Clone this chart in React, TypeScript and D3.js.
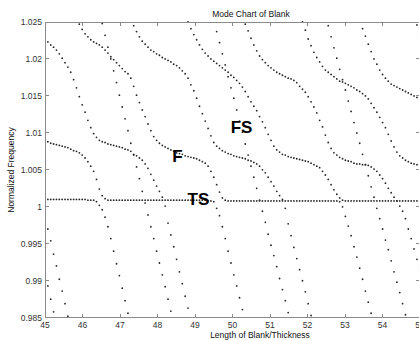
import React from 'react';
import * as d3 from 'd3';

// sampling grid of the computed mode chart (length/thickness)
const X_START = 45;
const X_STEP = 0.07629;

const xTickValues = [45, 46, 47, 48, 49, 50, 51, 52, 53, 54, 55];
const xTickLabels = ['45', '46', '47', '48', '49', '50', '51', '52', '53', '54', '55'];
const yTickValues = [0.985, 0.99, 0.995, 1, 1.005, 1.01, 1.015, 1.02, 1.025];
const yTickLabels = ['0.985', '0.99', '0.995', '1', '1.005', '1.01', '1.015', '1.02', '1.025'];

const modeLabels = [
  { text: 'F', x: 48.39, y: 1.006 },
  { text: 'FS', x: 49.95, y: 1.01 },
  { text: 'TS', x: 48.8, y: 1.0002 },
];

// each branch: index of first sample on the grid + normalized frequencies
const branchTS1 = { start: 0, y: [1.0010, 1.0010, 1.0010, 1.0010, 1.0010, 1.0010, 1.0010, 1.0010, 1.0010, 1.0010, 1.0010, 1.0010, 1.0010, 1.0010, 1.0010, 1.0009, 1.0009, 1.0009, 1.0007, 1.0002, 0.9996, 0.9986, 0.9973, 0.9957, 0.9940, 0.9923, 0.9907, 0.9890, 0.9873, 0.9856] };
const branchLa = { start: 0, y: [0.9988, 0.9970, 0.9954, 0.9936, 0.9920, 0.9902, 0.9886, 0.9869, 0.9852] };
const branchLb = { start: 0, y: [0.9911, 0.9893, 0.9875, 0.9858] };
const branchFL = { start: 0, y: [
  1.0089, 1.0088, 1.0086, 1.0085, 1.0084, 1.0083, 1.0082, 1.0081, 1.0080, 1.0078, 1.0076, 1.0075, 1.0073, 1.0070, 1.0066, 1.0061, 1.0055, 1.0048, 1.0037, 1.0024, 1.0015, 1.0011, 1.0009,
  1.0009, 1.0009, 1.0009, 1.0009, 1.0009, 1.0009, 1.0009, 1.0009, 1.0009, 1.0009, 1.0009, 1.0009, 1.0009, 1.0009, 1.0009, 1.0009, 1.0009, 1.0009,
  1.0009, 1.0009, 1.0009, 1.0009, 1.0009, 1.0009, 1.0009, 1.0009, 1.0009, 1.0009, 1.0009, 1.0009, 1.0009, 1.0009, 1.0009, 1.0009,
  1.0008, 1.0008, 1.0007, 0.9998, 0.9988, 0.9973, 0.9957, 0.9940, 0.9924, 0.9908, 0.9893, 0.9877, 0.9861, 0.9844] };
const branchAlpha = { start: 0, y: [
  1.0227, 1.0223, 1.0219, 1.0216, 1.0212, 1.0207, 1.0201, 1.0195, 1.0189, 1.0182, 1.0172, 1.0161, 1.0149, 1.0138, 1.0128, 1.0117, 1.0107, 1.0099, 1.0094, 1.0090,
  1.0088, 1.0087, 1.0085, 1.0084, 1.0083, 1.0082, 1.0081, 1.0080, 1.0078, 1.0077, 1.0075, 1.0071, 1.0069, 1.0066, 1.0063, 1.0058, 1.0052, 1.0044, 1.0036, 1.0028,
  1.0021, 1.0013, 1.0001, 0.9978, 0.9962, 0.9946, 0.9929, 0.9912, 0.9896, 0.9879, 0.9863, 0.9846] };
const branchU2a = { start: 20, y: [1.0248, 1.0232, 1.0216, 1.0200, 1.0184, 1.0168, 1.0151, 1.0135, 1.0119, 1.0103, 1.0086, 1.0070, 1.0054, 1.0038, 1.0021, 1.0005, 0.9989, 0.9973, 0.9957, 0.9940, 0.9924, 0.9908, 0.9892, 0.9875, 0.9859, 0.9843] };
const branchT2 = { start: 12, y: [
  1.0247, 1.0240, 1.0234, 1.0230, 1.0226, 1.0223, 1.0221, 1.0219, 1.0216, 1.0212, 1.0208, 1.0203, 1.0199, 1.0195, 1.0191, 1.0187, 1.0183, 1.0180, 1.0174, 1.0163,
  1.0151, 1.0141, 1.0131, 1.0122, 1.0112, 1.0103, 1.0095, 1.0090, 1.0086, 1.0083, 1.0081, 1.0079, 1.0077, 1.0075, 1.0073, 1.0072, 1.0071, 1.0069, 1.0068, 1.0067,
  1.0066, 1.0065, 1.0063, 1.0061, 1.0059, 1.0055, 1.0048, 1.0040, 1.0030, 1.0020, 1.0012, 1.0009,
  1.0008, 1.0008, 1.0008, 1.0008, 1.0008, 1.0008, 1.0008, 1.0008, 1.0008, 1.0008, 1.0008, 1.0008, 1.0008, 1.0008, 1.0008, 1.0008, 1.0008, 1.0008, 1.0008, 1.0008,
  1.0008, 1.0008, 1.0008, 1.0008, 1.0008, 1.0008, 1.0008, 1.0008, 1.0008, 1.0008, 1.0008, 1.0008, 1.0008, 1.0008, 1.0008, 1.0008, 1.0008, 1.0008, 1.0008,
  1.0007, 1.0000, 0.9987, 0.9974, 0.9961, 0.9946, 0.9932, 0.9917, 0.9902, 0.9886, 0.9871, 0.9856, 0.9840] };
const branchD = { start: 31, y: [
  1.0245, 1.0237, 1.0230, 1.0224, 1.0220, 1.0216, 1.0212, 1.0210, 1.0207, 1.0205, 1.0202, 1.0200, 1.0198, 1.0196, 1.0193, 1.0191, 1.0188, 1.0184, 1.0180, 1.0174,
  1.0165, 1.0157, 1.0147, 1.0136, 1.0126, 1.0116, 1.0106, 1.0096, 1.0087, 1.0082, 1.0079, 1.0076, 1.0074, 1.0072, 1.0071, 1.0069, 1.0068, 1.0067, 1.0066, 1.0065,
  1.0063, 1.0062, 1.0060, 1.0058, 1.0055, 1.0050, 1.0046, 1.0040, 1.0034, 1.0028, 1.0021, 1.0015, 1.0010, 0.9998, 0.9977, 0.9961, 0.9945, 0.9930, 0.9915, 0.9900,
  0.9885, 0.9869, 0.9853, 0.9837] };
const branchU2b = { start: 60, y: [1.0237, 1.0222, 1.0207, 1.0192, 1.0176, 1.0161, 1.0147, 1.0131, 1.0116, 1.0101, 1.0085, 1.0070, 1.0055, 1.0040, 1.0025, 1.0009, 0.9994, 0.9979, 0.9963, 0.9948, 0.9934, 0.9919, 0.9903, 0.9888, 0.9873, 0.9857, 0.9841] };
const branchE = { start: 50, y: [
  1.0250, 1.0241, 1.0233, 1.0226, 1.0219, 1.0213, 1.0208, 1.0204, 1.0200, 1.0197, 1.0194, 1.0191, 1.0188, 1.0185, 1.0182, 1.0178, 1.0175, 1.0171, 1.0167, 1.0162,
  1.0156, 1.0149, 1.0142, 1.0136, 1.0130, 1.0122, 1.0115, 1.0107, 1.0098, 1.0090, 1.0082, 1.0077, 1.0074, 1.0071, 1.0070, 1.0068, 1.0067, 1.0066, 1.0065, 1.0064,
  1.0063, 1.0062, 1.0061, 1.0059, 1.0057, 1.0055, 1.0053, 1.0048, 1.0043, 1.0037, 1.0030, 1.0023, 1.0017, 1.0012, 1.0009,
  1.0008, 1.0008, 1.0008, 1.0008, 1.0008, 1.0008, 1.0008, 1.0008, 1.0008, 1.0008, 1.0008, 1.0008, 1.0008, 1.0008, 1.0008, 1.0008, 1.0008, 1.0008, 1.0008, 1.0008,
  1.0008, 1.0008, 1.0008, 1.0008, 1.0008, 1.0008, 1.0008] };
const branchG = { start: 70, y: [
  1.0247, 1.0238, 1.0228, 1.0219, 1.0211, 1.0204, 1.0199, 1.0195, 1.0191, 1.0188, 1.0185, 1.0182, 1.0180, 1.0178, 1.0176, 1.0174, 1.0173, 1.0171, 1.0168, 1.0163,
  1.0159, 1.0155, 1.0149, 1.0142, 1.0135, 1.0127, 1.0117, 1.0108, 1.0097, 1.0087, 1.0079, 1.0073, 1.0070, 1.0067, 1.0065, 1.0063, 1.0062, 1.0061, 1.0059, 1.0058,
  1.0058, 1.0057, 1.0057, 1.0056, 1.0054, 1.0051, 1.0048, 1.0043, 1.0038, 1.0032, 1.0025, 1.0019, 1.0013, 1.0008, 1.0001, 0.9994, 0.9984, 0.9970, 0.9957, 0.9943,
  0.9929, 0.9916] };
const branchU2c = { start: 99, y: [1.0245, 1.0230, 1.0215, 1.0201, 1.0186, 1.0172, 1.0158, 1.0143, 1.0129, 1.0114, 1.0100, 1.0086, 1.0071, 1.0057, 1.0042, 1.0027, 1.0013, 0.9998, 0.9984, 0.9970, 0.9955, 0.9942, 0.9927, 0.9912, 0.9898, 0.9884, 0.9869, 0.9854, 0.9840] };
const branchH = { start: 90, y: [
  1.0250, 1.0239, 1.0227, 1.0218, 1.0209, 1.0202, 1.0196, 1.0190, 1.0185, 1.0182, 1.0179, 1.0176, 1.0173, 1.0170, 1.0169, 1.0167, 1.0165, 1.0163, 1.0161, 1.0158,
  1.0156, 1.0153, 1.0150, 1.0146, 1.0140, 1.0134, 1.0128, 1.0121, 1.0114, 1.0107, 1.0098, 1.0089, 1.0081, 1.0074, 1.0069, 1.0066, 1.0063, 1.0061, 1.0059, 1.0058,
  1.0057, 1.0057] };
const branchJ = { start: 111, y: [1.0241, 1.0231, 1.0220, 1.0210, 1.0200, 1.0193, 1.0185, 1.0179, 1.0174, 1.0170, 1.0166, 1.0164, 1.0162, 1.0160, 1.0158, 1.0156, 1.0154, 1.0152, 1.0150, 1.0148, 1.0147] };
const branchC4 = { start: 130, y: [1.0246, 1.0232] };

const branches = [branchTS1, branchLa, branchLb, branchFL, branchAlpha, branchU2a, branchT2, branchD, branchU2b, branchE, branchG, branchU2c, branchH, branchJ, branchC4];

const FONT = '"Liberation Sans", Arial, Helvetica, sans-serif';

export default function App() {
  const left = 45, right = 420, top = 22, bottom = 317.7;
  const x = d3.scaleLinear().domain([45, 55]).range([left, right]);
  const y = d3.scaleLinear().domain([0.985, 1.025]).range([bottom, top]);
  const axisColor = '#8a8a8a';
  const tickLen = 4;

  const dots: { cx: number; cy: number; key: string }[] = [];
  branches.forEach((b, bi) => {
    b.y.forEach((v, k) => {
      const xv = X_START + (b.start + k) * X_STEP;
      dots.push({ cx: x(xv), cy: y(v), key: `${bi}-${k}` });
    });
  });

  return (
    <svg width={419} height={340} style={{ position: 'absolute', left: 0, top: 0, background: '#fff' }}
      fontFamily={FONT}>
      <rect x={0} y={0} width={419} height={340} fill="#fff" />
      <defs>
        <clipPath id="plotClip">
          <rect x={left} y={top - 1} width={right - left} height={bottom - top + 2} />
        </clipPath>
      </defs>
      <g clipPath="url(#plotClip)">
        {dots.map((d) => (
          <circle key={d.key} cx={d.cx} cy={d.cy} r={0.9} fill="#262626" />
        ))}
      </g>
      {/* axes box */}
      <g stroke={axisColor} strokeWidth={1} shapeRendering="crispEdges" fill="none">
        <line x1={left} x2={left} y1={top} y2={bottom} />
        <line x1={left} x2={right} y1={top} y2={top} />
        <line x1={left} x2={right} y1={bottom} y2={bottom} />
        <line x1={right} x2={right} y1={top} y2={bottom} />
        {xTickValues.map((v) => (
          <g key={'xt' + v}>
            <line x1={x(v)} x2={x(v)} y1={bottom} y2={bottom - tickLen} />
            <line x1={x(v)} x2={x(v)} y1={top} y2={top + tickLen} />
          </g>
        ))}
        {yTickValues.map((v) => (
          <g key={'yt' + v}>
            <line x1={left} x2={left + tickLen} y1={y(v)} y2={y(v)} />
            <line x1={right} x2={right - tickLen} y1={y(v)} y2={y(v)} />
          </g>
        ))}
      </g>
      {/* tick labels */}
      <g fontSize={8.5} fill="#333">
        {xTickValues.map((v, i) => (
          <text key={'xl' + v} x={x(v)} y={327.5} textAnchor="middle">{xTickLabels[i]}</text>
        ))}
        {yTickValues.map((v, i) => (
          <text key={'yl' + v} x={42} y={y(v) + 3} textAnchor="end">{yTickLabels[i]}</text>
        ))}
      </g>
      {/* titles */}
      <text x={251} y={16.5} textAnchor="middle" fontSize={8.5} fill="#111">Mode Chart of Blank</text>
      <text x={260} y={338} textAnchor="middle" fontSize={8.5} fill="#111">Length of Blank/Thickness</text>
      <text transform="translate(14,170) rotate(-90)" textAnchor="middle" fontSize={8.5} fill="#111">Normalized Frequency</text>
      {/* mode labels */}
      {modeLabels.map((m) => (
        <text key={m.text} x={x(m.x)} y={y(m.y)} fontSize={17} fontWeight="bold" fill="#000">{m.text}</text>
      ))}
    </svg>
  );
}
